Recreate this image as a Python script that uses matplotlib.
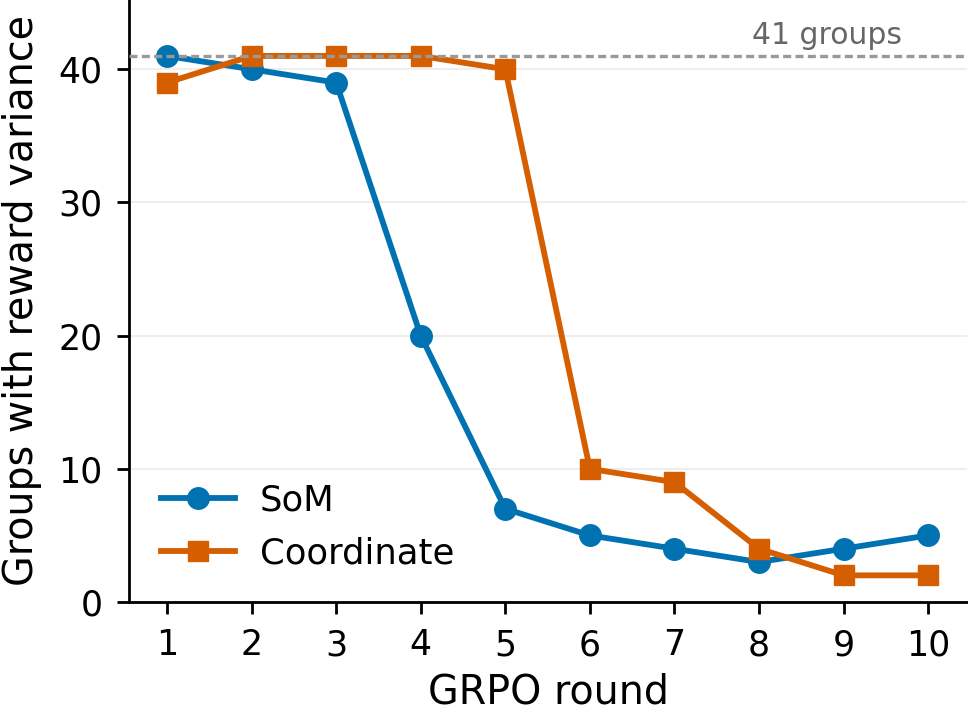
import matplotlib
matplotlib.use("Agg")
import matplotlib.pyplot as plt

rounds = [1, 2, 3, 4, 5, 6, 7, 8, 9, 10]
som = [41, 40, 39, 20, 7, 5, 4, 3, 4, 5]
coordinate = [39, 41, 41, 41, 40, 10, 9, 4, 2, 2]
total_groups = 41

fig = plt.figure(figsize=(9.68, 7.13), dpi=100)
ax = fig.add_axes([129/968, 111/713, (967-129)/968, (602-0)/713])

ax.plot(rounds, som, color="#0072B2", marker="o", lw=4.2, ms=15.5, label="SoM", zorder=3)
ax.plot(rounds, coordinate, color="#D55E00", marker="s", lw=4.2, ms=14.5, label="Coordinate", zorder=3)
ax.axhline(total_groups, color="#999999", ls=(0, (2.4, 1.3)), lw=2.4, zorder=4)
ax.text(9.69, total_groups + 0.45, f"{total_groups} groups", ha="right", va="bottom",
        fontsize=21.5, color="#666666")

ax.set_xlim(0.55, 10.46)
ax.set_ylim(0, 45.2)
ax.set_xticks(rounds)
ax.set_yticks([0, 10, 20, 30, 40])
ax.yaxis.grid(True, color="#ebebeb", lw=1.2, zorder=0)
ax.set_axisbelow(True)
for s in ["top", "right"]:
    ax.spines[s].set_visible(False)
for s in ["left", "bottom"]:
    ax.spines[s].set_linewidth(2.0)
ax.tick_params(axis="both", labelsize=25, width=2.0, length=8.5, pad=10.5)
ax.set_xlabel("GRPO round", fontsize=28.5, labelpad=7)
ax.set_ylabel("Groups with reward variance", fontsize=28.5, labelpad=12)
ax.legend(loc="lower left", frameon=False, fontsize=25.5, handlelength=2.1,
          handletextpad=0.7, borderaxespad=0.5, labelspacing=0.52)

fig.savefig("out.png", dpi=100)
